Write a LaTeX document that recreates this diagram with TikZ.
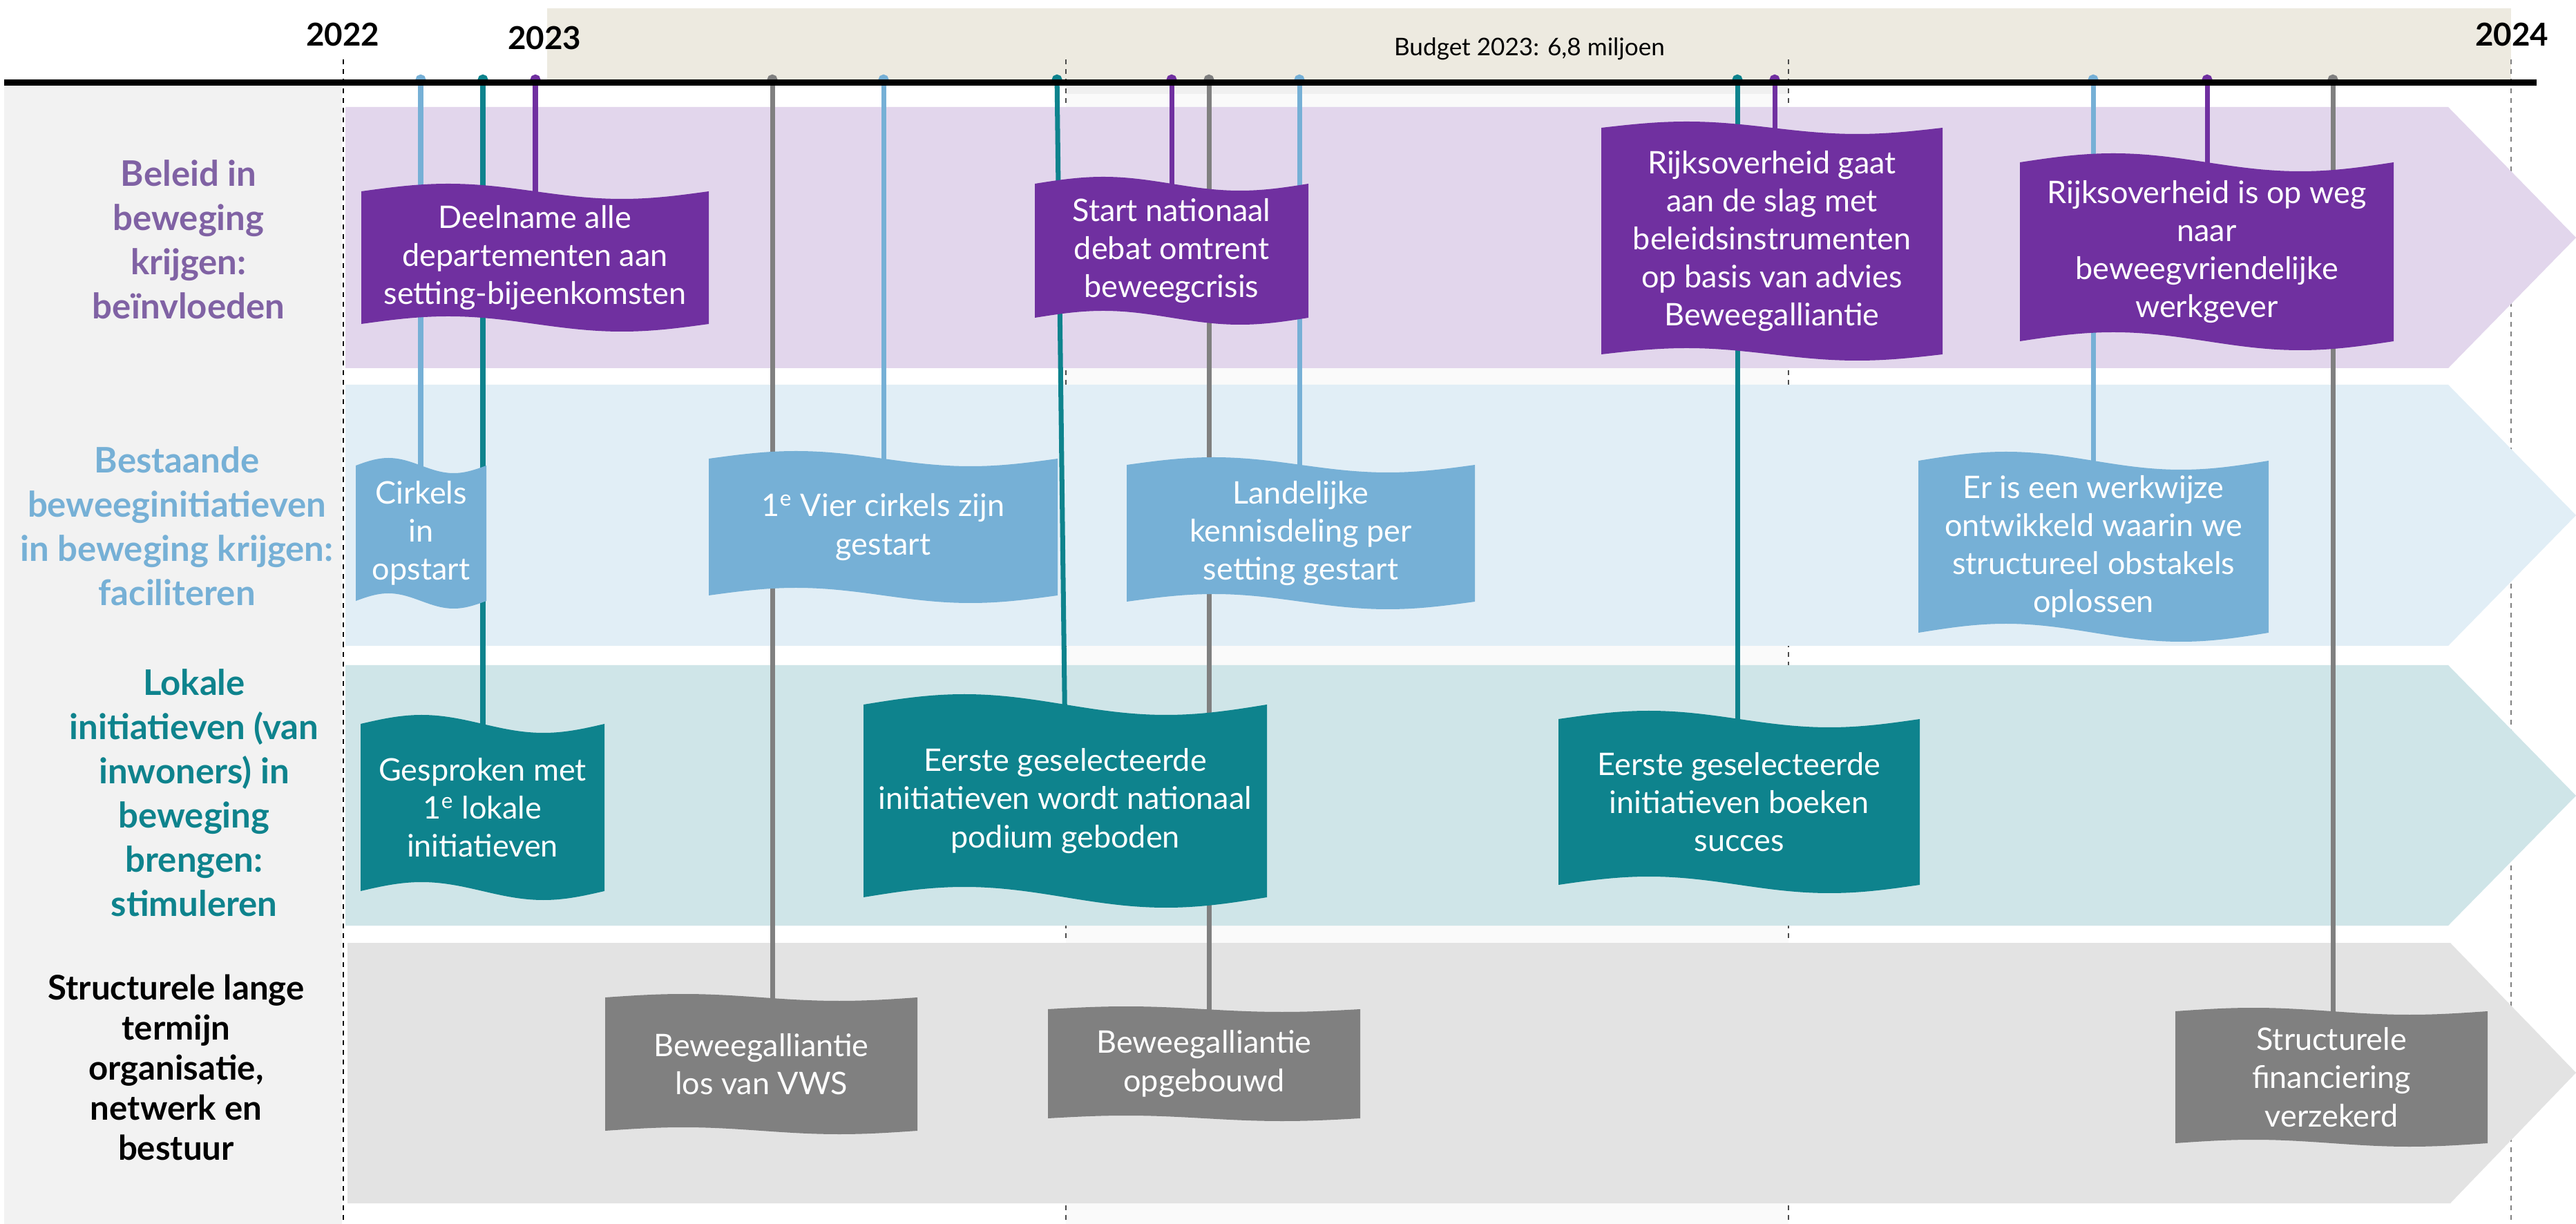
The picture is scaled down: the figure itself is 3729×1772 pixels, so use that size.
\documentclass[tikz,border=0pt]{standalone}
\usepackage{fontspec}
\setmainfont{Lato}
\usetikzlibrary{arrows.meta}

\definecolor{flagpurple}{RGB}{112,48,160}
\definecolor{flagblue}{RGB}{118,176,214}
\definecolor{flagteal}{RGB}{14,131,141}
\definecolor{flaggray}{RGB}{128,128,128}
\definecolor{bandpurple}{RGB}{226,214,236}
\definecolor{bandblue}{RGB}{225,238,246}
\definecolor{bandteal}{RGB}{207,229,232}
\definecolor{bandgray}{RGB}{227,227,227}
\definecolor{panelgray}{RGB}{242,242,242}
\definecolor{budgetbeige}{RGB}{237,234,224}
\definecolor{labelpurple}{RGB}{128,98,164}

\pgfdeclarelayer{back}
\pgfdeclarelayer{pins}
\pgfsetlayers{back,pins,main}

\tikzset{
  flagtext/.style={text=white, align=center, inner sep=0pt, font=\fontsize{12.8}{15.7}\selectfont},
  lanelabel/.style={align=center, inner sep=0pt, font=\fontsize{14.5}{18.2}\selectfont\bfseries},
  yearlabel/.style={inner sep=0pt, font=\fontsize{13}{15}\selectfont\bfseries},
  pin/.style={line width=2pt, {Circle[length=4.2pt]}-},
  yearline/.style={dash pattern=on 2pt off 2pt, line width=0.6pt},
}

% name, left, top, width, height, wave, colour, text
\newcommand{\waveflag}[8]{%
  \fill[#7] (#2,#3) sin ++({#4/4},-#6) cos ++({#4/4},#6) sin ++({#4/4},#6) cos ++({#4/4},-#6)
    -- ++(0,#5) sin ++({-#4/4},#6) cos ++({-#4/4},-#6) sin ++({-#4/4},-#6) cos ++({-#4/4},#6) -- cycle;
  \node[flagtext] (#1) at ({#2+#4/2},{#3+#5/2}) {#8};}

\begin{document}
\begin{tikzpicture}[x=0.1mm, y=-0.1mm]
  \useasboundingbox (0,0) rectangle (3729,1772);
  \begin{pgfonlayer}{back}
    \fill[white] (0,0) rectangle (3729,1772);
    \fill[budgetbeige] (792,12) rectangle (3635,119);
    \fill[panelgray] (6,124) rectangle (495,1772);
    \fill[black!2] (1543,124) rectangle (2589,1772);
    \fill[black!6] (1543,124) rectangle (2589,136);
    % year dividers
    \draw[yearline] (497,86) -- (497,1772);
    \draw[yearline, black!70] (1543,86) -- (1543,1772);
    \draw[yearline, black!70] (2589,86) -- (2589,1772);
    \draw[yearline, black!50] (3635,86) -- (3635,1772);
    % lanes
    \fill[bandpurple] (500,155) -- (3544,155) -- (3729,344) -- (3544,533) -- (500,533) -- cycle;
    \fill[bandblue] (500,557) -- (3544,557) -- (3729,746) -- (3544,935) -- (500,935) -- cycle;
    \fill[bandteal] (500,963) -- (3544,963) -- (3729,1152) -- (3544,1340) -- (500,1340) -- cycle;
    \fill[bandgray] (503,1365) -- (3547,1365) -- (3729,1553) -- (3547,1742) -- (503,1742) -- cycle;
  \end{pgfonlayer}

  \node[yearlabel] (y2022) at (496,50) {2022};
  \node[yearlabel] (y2023) at (788,55) {2023};
  \node[yearlabel] (y2024) at (3636,50) {2024};
  \node[inner sep=0pt, font=\fontsize{10}{12}\selectfont] (budget) at (2214,71) {Budget 2023: 6,8 miljoen};

  \node[lanelabel, text=labelpurple] (beleid) at (273,347) {Beleid in\\beweging\\krijgen:\\beïnvloeden};
  \node[lanelabel, text=flagblue] (bestaande) at (256,762) {Bestaande\\beweeginitiatieven\\in beweging krijgen:\\faciliteren};
  \node[lanelabel, text=flagteal] (lokale) at (281,1148) {Lokale\\initiatieven (van\\inwoners) in\\beweging\\brengen:\\stimuleren};
  \node[lanelabel, text=black, font=\fontsize{14}{16.5}\selectfont\bfseries] (structureel) at (255,1545)
    {Structurele lange\\termijn\\organisatie,\\netwerk en\\bestuur};

  % flags
  \waveflag{deelname}{523}{277}{503}{192}{11}{flagpurple}{Deelname alle\\departementen aan\\setting-bijeenkomsten}
  \waveflag{debat}{1498}{266}{396}{194}{10}{flagpurple}{Start nationaal\\debat omtrent\\beweegcrisis}
  \waveflag{slag}{2318}{185}{494}{328}{9}{flagpurple}{Rijksoverheid gaat\\aan de slag met\\beleidsinstrumenten\\op basis van advies\\Beweegalliantie}
  \waveflag{werkgever}{2924}{235}{541}{259}{13}{flagpurple}{Rijksoverheid is op weg\\naar\\beweegvriendelijke\\werkgever}
  \waveflag{cirkels}{515}{674}{189}{196}{11}{flagblue}{Cirkels\\in\\opstart}
  \waveflag{vier}{1026}{664}{505}{198}{11}{flagblue}{1\textsuperscript{e} Vier cirkels zijn\\gestart}
  \waveflag{kennis}{1631}{673}{504}{198}{11}{flagblue}{Landelijke\\kennisdeling per\\setting gestart}
  \waveflag{werkwijze}{2777}{667}{507}{249}{13}{flagblue}{Er is een werkwijze\\ontwikkeld waarin we\\structureel obstakels\\oplossen}
  \waveflag{gesproken}{522}{1048}{353}{242}{13}{flagteal}{Gesproken met\\1\textsuperscript{e} lokale\\initiatieven}
  \waveflag{podium}{1250}{1020}{584}{279}{15}{flagteal}{Eerste geselecteerde\\initiatieven wordt nationaal\\podium geboden}
  \waveflag{succes}{2256}{1041}{523}{240}{12}{flagteal}{Eerste geselecteerde\\initiatieven boeken\\succes}
  \waveflag{vws}{876}{1444}{452}{193}{5}{flaggray}{Beweegalliantie\\los van VWS}
  \waveflag{opgebouwd}{1517}{1461}{452}{158}{4}{flaggray}{Beweegalliantie\\opgebouwd}
  \waveflag{financiering}{3149}{1464}{452}{191}{5}{flaggray}{Structurele\\financiering\\verzekerd}

  % pins on the time line
  \coordinate (pcirkels) at (609,108);
  \coordinate (pgesproken) at (699,108);
  \coordinate (pdeelname) at (775,108);
  \coordinate (pvws) at (1118,108);
  \coordinate (pvier) at (1279,108);
  \coordinate (ppodium) at (1530,108);
  \coordinate (pdebat) at (1696,108);
  \coordinate (popgebouwd) at (1750,108);
  \coordinate (pkennis) at (1881,108);
  \coordinate (psucces) at (2515,108);
  \coordinate (pslag) at (2569,108);
  \coordinate (pwerkwijze) at (3030,108);
  \coordinate (pwerkgever) at (3195,108);
  \coordinate (pfinanciering) at (3377,108);
  \begin{pgfonlayer}{pins}
    \draw[pin, flagblue] (pcirkels) -- (pcirkels |- cirkels.center);
    \draw[pin, flagteal] (pgesproken) -- (pgesproken |- gesproken.center);
    \draw[pin, flagpurple] (pdeelname) -- (pdeelname |- deelname.center);
    \draw[pin, flaggray] (pvws) -- (pvws |- vws.center);
    \draw[pin, flagblue] (pvier) -- (pvier |- vier.center);
    \draw[pin, flagteal] (ppodium) -- (podium.north);
    \draw[pin, flagpurple] (pdebat) -- (pdebat |- debat.center);
    \draw[pin, flaggray] (popgebouwd) -- (popgebouwd |- opgebouwd.center);
    \draw[pin, flagblue] (pkennis) -- (pkennis |- kennis.center);
    \draw[pin, flagteal] (psucces) -- (psucces |- succes.center);
    \draw[pin, flagpurple] (pslag) -- (pslag |- slag.center);
    \draw[pin, flagblue] (pwerkwijze) -- (pwerkwijze |- werkwijze.center);
    \draw[pin, flagpurple] (pwerkgever) -- (pwerkgever |- werkgever.center);
    \draw[pin, flaggray] (pfinanciering) -- (pfinanciering |- financiering.center);
  \end{pgfonlayer}

  % time line
  \draw[line width=2.6pt] (6,119.5) -- (3672,119.5);
\end{tikzpicture}
\end{document}
